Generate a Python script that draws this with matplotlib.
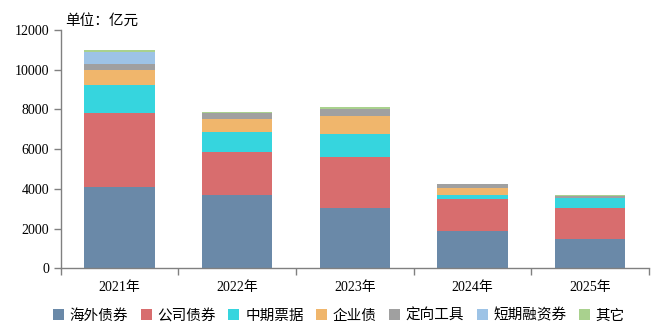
import numpy as np
import matplotlib.pyplot as plt
from matplotlib.ticker import FixedLocator

years = ["2021年", "2022年", "2023年", "2024年", "2025年"]
series_names = ["海外债券", "公司债券", "中期票据", "企业债", "定向工具", "短期融资券", "其它"]
colors = ["#6A89A8", "#D86D6E", "#36D5DE", "#F0B66C", "#A0A0A0", "#9DC3E6", "#A9D18E"]

overseas = [4070, 3690, 3050, 1880, 1475]
corporate = [3775, 2165, 2555, 1610, 1575]
mtn = [1365, 1005, 1175, 200, 475]
enterprise = [760, 655, 890, 355, 20]
ppn = [305, 300, 345, 200, 115]
cp = [605, 0, 0, 0, 0]
other = [100, 50, 100, 0, 50]

series = [overseas, corporate, mtn, enterprise, ppn, cp, other]

serif_cjk = ["Liberation Serif", "Noto Sans CJK SC"]
cjk = ["Noto Sans CJK SC", "DejaVu Sans"]

fig = plt.figure(figsize=(6.61, 3.36), dpi=100)
ax = fig.add_axes([0.092, 0.2015, 0.8895, 0.7092])

x = np.arange(len(years))
bottom = np.zeros(len(years))
for name, vals, c in zip(series_names, series, colors):
    ax.bar(x, vals, width=0.6, bottom=bottom, color=c, label=name, linewidth=0)
    bottom += np.array(vals)

ax.set_xlim(-0.5, len(years) - 0.5)
ax.set_ylim(0, 12000)
ax.set_yticks(range(0, 12001, 2000))
ax.set_yticklabels([str(v) for v in range(0, 12001, 2000)], family=serif_cjk, fontsize=10, color="#000000")

ax.set_xticks(x)
ax.set_xticklabels(years, family=serif_cjk, fontsize=10)
ax.tick_params(axis="x", which="major", length=0, pad=9)
ax.xaxis.set_minor_locator(FixedLocator(np.arange(-0.5, len(years), 1.0)))
ax.tick_params(axis="x", which="minor", length=5, color="#808080", width=1)
ax.tick_params(axis="y", length=5, color="#808080", width=1)

for side in ["top", "right"]:
    ax.spines[side].set_visible(False)
for side in ["left", "bottom"]:
    ax.spines[side].set_color("#808080")
    ax.spines[side].set_linewidth(1)

fig.text(0.099, 0.925, "单位：亿元", family=cjk, fontsize=10.5)

fig.legend(loc="lower center", bbox_to_anchor=(0.513, 0.0), ncol=7, frameon=False,
           prop={"family": cjk, "size": 10.5}, handlelength=0.75, handleheight=0.75,
           handletextpad=0.4, columnspacing=0.85)

fig.savefig("out.png", dpi=100)
